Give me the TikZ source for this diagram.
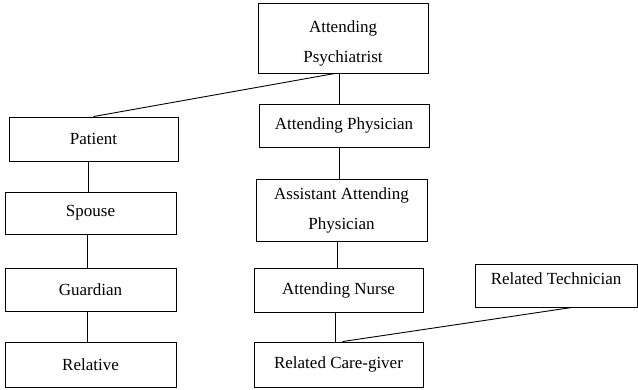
\documentclass[tikz,border=0pt]{standalone}
\usepackage{fontspec}
\setmainfont{Liberation Serif}
\usepackage{tikz}
\usetikzlibrary{positioning}

\begin{document}
\begin{tikzpicture}[
    x=1pt, y=-1pt,
    role/.style={rectangle, draw, line width=0.9pt, inner sep=2pt, align=center,
                 font=\fontsize{17}{30}\selectfont, minimum width=170pt, minimum height=44pt},
    link/.style={line width=0.9pt}
]
    \useasboundingbox (0,0) rectangle (638,389);

    % 医护一侧
    \node[role, minimum height=70pt] (psych) at (343, 38) {\rule{0pt}{22pt}Attending\\Psychiatrist};
    \node[role, minimum height=43pt] (phys) at (344, 125.5) {Attending Physician};
    \node[role, minimum width=171pt, minimum height=62pt] (asst) at (341.5, 210) {Assistant Attending\\Physician};
    \node[role, minimum width=169pt] (nurse) at (338.5, 290) {Attending Nurse};
    \node[role, minimum width=169pt, minimum height=45pt] (care) at (338.5, 364.5) {Related Care-giver};
    \node[role, minimum width=162pt, minimum height=43pt] (tech) at (556, 285.5) {\rule[-14pt]{0pt}{0pt}Related Technician};

    % 患者一侧
    \node[role, minimum width=169pt] (patient) at (93.5, 139) {Patient};
    \node[role, minimum width=171pt, minimum height=42pt] (spouse) at (90.5, 213) {Spouse};
    \node[role, minimum width=171pt, minimum height=43pt] (guardian) at (90.5, 289.5) {Guardian};
    \node[role, minimum width=171pt, minimum height=45pt] (relative) at (90.5, 364.5) {Relative};

    % 竖向连线
    \draw[link] ([xshift=-4pt]psych.south) -- ([xshift=-4pt]psych.south |- phys.north);
    \draw[link] ([xshift=-5pt]phys.south) -- ([xshift=-5pt]phys.south |- asst.north);
    \draw[link] ([xshift=-4pt]asst.south) -- ([xshift=-4pt]asst.south |- nurse.north);
    \draw[link] ([xshift=-3pt]nurse.south) -- ([xshift=-3pt]nurse.south |- care.north);
    \draw[link] ([xshift=-2pt]spouse.north |- patient.south) -- ([xshift=-2pt]spouse.north);
    \draw[link] ([xshift=-3pt]spouse.south) -- ([xshift=-3pt]guardian.north);
    \draw[link] ([xshift=-3pt]guardian.south) -- ([xshift=-3pt]relative.north);

    % 斜向连线
    \draw[link] ([xshift=-8pt]psych.south) -- (patient.north);
    \draw[link] ([xshift=4pt]care.north) -- ([xshift=16pt]tech.south);
\end{tikzpicture}
\end{document}
